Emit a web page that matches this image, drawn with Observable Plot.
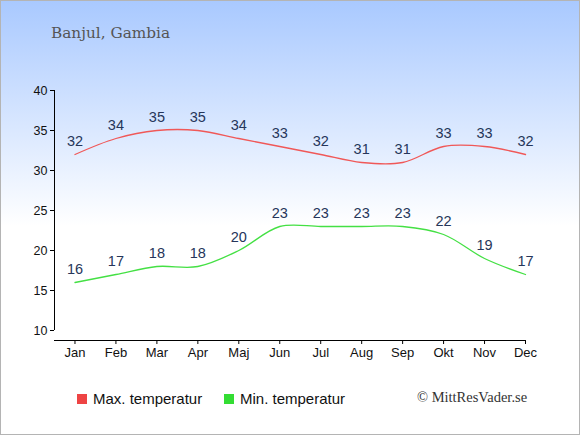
<!DOCTYPE html>
<html>
<head>
<meta charset="utf-8">
<script src="https://cdn.jsdelivr.net/npm/d3@7"></script>
<script src="https://cdn.jsdelivr.net/npm/@observablehq/plot@0.6"></script>
<style>
  html, body { margin: 0; padding: 0; background: #fff; }
  #wrap {
    position: relative; width: 578px; height: 433px;
    border: 1px solid #b4b4b4;
    background: linear-gradient(to bottom, #a9c9ff 0%, #ffffff 52%, #ffffff 100%);
    overflow: hidden;
  }
  #chart { position: absolute; left: 0; top: 0; }
  #chart svg { background: transparent !important; }
  .title { position: absolute; left: 50px; top: 25px; font: 15.3px/15.3px "DejaVu Serif", serif; color: #555; white-space: nowrap; }
  .leg { position: absolute; top: 390px; font: 15px/15px "Liberation Sans", Arial, sans-serif; color: #111; white-space: nowrap; }
  .sw { position: absolute; top: 393px; width: 10px; height: 10px; }
  .copy { position: absolute; left: 416px; top: 389px; font: 14.5px/14.5px "Liberation Serif", serif; color: #333; white-space: nowrap; }
</style>
</head>
<body>
<div id="wrap">
  <div id="chart"></div>
  <div class="title">Banjul, Gambia</div>
  <div class="sw" style="left:76px;background:#ee4444"></div>
  <div class="leg" style="left:92px">Max. temperatur</div>
  <div class="sw" style="left:223px;background:#33dd33"></div>
  <div class="leg" style="left:239px">Min. temperatur</div>
  <div class="copy">© MittResVader.se</div>
</div>
<script>
const months = ["Jan","Feb","Mar","Apr","Maj","Jun","Jul","Aug","Sep","Okt","Nov","Dec"];
const maxTemp = [32,34,35,35,34,33,32,31,31,33,33,32];
const minTemp = [16,17,18,18,20,23,23,23,23,22,19,17];
const yTicks = [10,15,20,25,30,35,40];

const idx = (d, i) => i;

const plot = Plot.plot({
  width: 578,
  height: 380,
  marginLeft: 53,
  marginRight: 54,
  marginTop: 89,
  marginBottom: 41,
  style: { background: "transparent", fontFamily: "'Liberation Sans', Arial, sans-serif", color: "#111" },
  x: { type: "linear", domain: [-0.5, 11] },
  y: { domain: [10, 40], range: [329, 89] },
  marks: [
    Plot.axisY({ ticks: yTicks, tickSize: 4, tickPadding: 3, fontSize: 12.5, label: null, stroke: "#000" }),
    Plot.ruleX([-0.5], { y1: 10, y2: 40, stroke: "#000" }),
    Plot.axisX({ ticks: d3.range(months.length), tickFormat: i => months[i], tickSize: 4, tickPadding: 3, fontSize: 13, label: null, stroke: "#000" }),
    Plot.frame({ anchor: "bottom", stroke: "#000" }),
    Plot.line(maxTemp, { x: idx, y: d => d, curve: "catmull-rom", stroke: "#f05858", strokeWidth: 1.3 }),
    Plot.line(minTemp, { x: idx, y: d => d, curve: "catmull-rom", stroke: "#44e044", strokeWidth: 1.3 }),
    Plot.text(maxTemp, { x: idx, y: d => d, text: d => String(d), dy: -13, fill: "#26365a", fontSize: 14.5 }),
    Plot.text(minTemp, { x: idx, y: d => d, text: d => String(d), dy: -13, fill: "#26365a", fontSize: 14.5 })
  ]
});
document.getElementById("chart").appendChild(plot);
</script>
</body>
</html>
